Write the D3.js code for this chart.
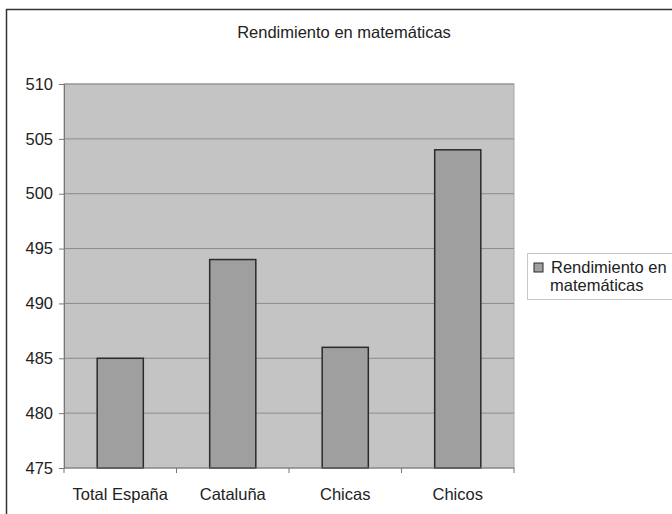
<!DOCTYPE html>
<html>
<head>
<meta charset="utf-8">
<script src="https://cdn.jsdelivr.net/npm/d3@7"></script>
<style>
  body { margin: 0; background: #fff; }
  text { font-family: "Liberation Sans", Arial, sans-serif; fill: #222; }
</style>
</head>
<body>
<div id="chart-container"></div>
<script>
// chart data
const categories = ['Total España', 'Cataluña', 'Chicas', 'Chicos'];
const values = [485, 494, 486, 504];
const yTicks = [475, 480, 485, 490, 495, 500, 505, 510];
const seriesName = ['Rendimiento en', 'matemáticas'];
const title = 'Rendimiento en matemáticas';

const W = 672;
const H = 514;
const plot = {left: 64, right: 514, top: 84, bottom: 468};
const fontSize = 16.5;

const svg = d3.select('#chart-container')
    .append('svg')
    .attr('width', W)
    .attr('height', H);

svg.append('rect').attr('width', W).attr('height', H).attr('fill', '#fff');

// outer frame, runs off the right and bottom edges
svg.append('rect')
    .attr('x', 6.5).attr('y', 9.5)
    .attr('width', 720).attr('height', 540)
    .attr('fill', 'none')
    .attr('stroke', '#333')
    .attr('stroke-width', 1.5);

svg.append('text')
    .attr('x', 344).attr('y', 38)
    .attr('text-anchor', 'middle')
    .attr('font-size', fontSize)
    .text(title);

const x = d3.scaleBand()
    .domain(categories)
    .range([plot.left, plot.right])
    .padding(0);

const y = d3.scaleLinear()
    .domain([475, 510])
    .range([plot.bottom, plot.top]);

// plot background
svg.append('rect')
    .attr('x', plot.left).attr('y', plot.top)
    .attr('width', plot.right - plot.left)
    .attr('height', plot.bottom - plot.top)
    .attr('fill', '#c4c4c4')
    .attr('stroke', '#a8a8a8');

// gridlines
svg.append('g')
    .selectAll('line')
    .data(yTicks.slice(1))
    .enter()
    .append('line')
    .attr('x1', plot.left).attr('x2', plot.right)
    .attr('y1', (d) => y(d)).attr('y2', (d) => y(d))
    .attr('stroke', '#8c8c8c')
    .attr('stroke-width', 1);

// bars
const barW = x.bandwidth() * 0.41;
svg.append('g')
    .selectAll('rect')
    .data(values)
    .enter()
    .append('rect')
    .attr('x', (d, i) => x(categories[i]) + (x.bandwidth() - barW) / 2)
    .attr('y', (d) => y(d))
    .attr('width', barW)
    .attr('height', (d) => y(475) - y(d))
    .attr('fill', '#9f9f9f')
    .attr('stroke', '#2a2a2a')
    .attr('stroke-width', 1.5);

// y axis
const yAxis = svg.append('g')
    .attr('transform', `translate(${plot.left}, 0)`)
    .call(d3.axisLeft(y).tickValues(yTicks).tickSize(5).tickPadding(6).tickFormat(d3.format('d')));
yAxis.select('.domain').attr('stroke', '#777');
yAxis.selectAll('line').attr('stroke', '#777');
yAxis.selectAll('text')
    .attr('font-size', fontSize)
    .attr('font-family', '"Liberation Sans", Arial, sans-serif')
    .attr('fill', '#222');

// x axis: ticks between categories
const xAxis = svg.append('g')
    .attr('transform', `translate(0, ${plot.bottom})`);
xAxis.append('line')
    .attr('x1', plot.left).attr('x2', plot.right)
    .attr('stroke', '#777');
xAxis.selectAll('line.tk')
    .data(d3.range(categories.length + 1))
    .enter()
    .append('line')
    .attr('class', 'tk')
    .attr('x1', (i) => plot.left + i * x.step())
    .attr('x2', (i) => plot.left + i * x.step())
    .attr('y1', 0).attr('y2', 5)
    .attr('stroke', '#777');
xAxis.selectAll('text')
    .data(categories)
    .enter()
    .append('text')
    .attr('x', (d) => x(d) + x.bandwidth() / 2)
    .attr('y', 32)
    .attr('text-anchor', 'middle')
    .attr('font-size', fontSize)
    .text((d) => d);

// legend
const legend = svg.append('g');
legend.append('rect')
    .attr('x', 527.5).attr('y', 253.5)
    .attr('width', 160).attr('height', 46)
    .attr('fill', '#fff')
    .attr('stroke', '#c8c8c8');
legend.append('rect')
    .attr('x', 534).attr('y', 263)
    .attr('width', 9).attr('height', 9)
    .attr('fill', '#9f9f9f')
    .attr('stroke', '#2a2a2a');
legend.selectAll('text.lg')
    .data(seriesName)
    .enter()
    .append('text')
    .attr('class', 'lg')
    .attr('x', (d, i) => i === 0 ? 551 : 550)
    .attr('y', (d, i) => 273 + i * 18)
    .attr('font-size', fontSize)
    .text((d) => d);
</script>
</body>
</html>
